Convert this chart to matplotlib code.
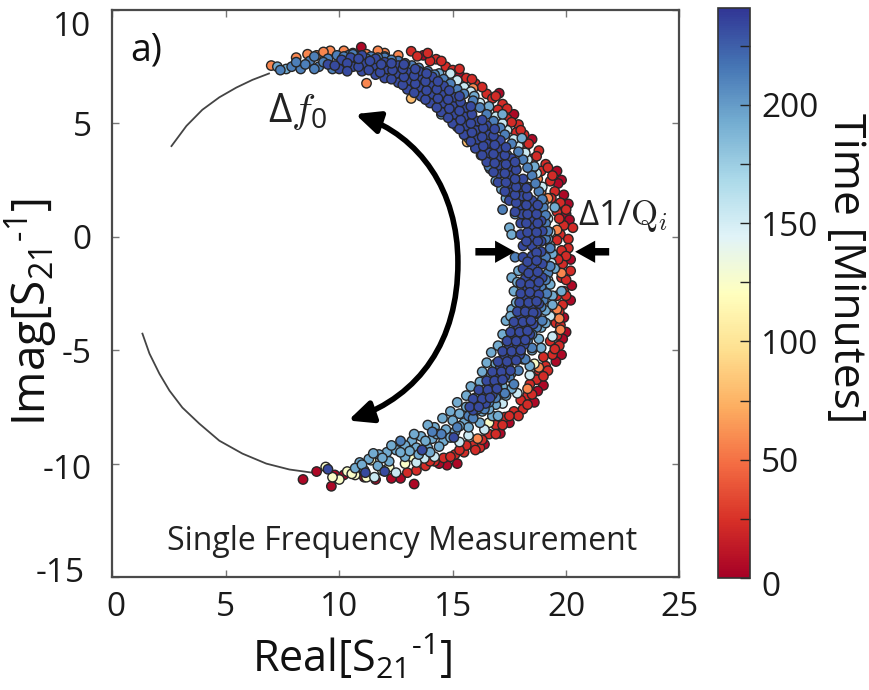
import matplotlib
matplotlib.use("Agg")
import matplotlib.pyplot as plt
from matplotlib.patches import FancyArrowPatch
from matplotlib.path import Path
from matplotlib.transforms import ScaledTranslation

plt.rcParams['font.family'] = ['Open Sans', 'DejaVu Sans']
plt.rcParams['mathtext.default'] = 'regular'
plt.rcParams['axes.unicode_minus'] = False

x_ticks = [0, 5, 10, 15, 20, 25]
y_ticks = [-15, -10, -5, 0, 5, 10]
cbar_ticks = [0, 50, 100, 150, 200]
cbar_minor = [25, 75, 125, 175, 225]
time_max = 241

guide_upper = [(2.6,4.0),(3.26,4.89),(3.96,5.6),(4.71,6.15),(5.46,6.58),(6.17,6.92),(6.9,7.2)]
guide_lower = [(1.32,-4.27),(1.63,-5.15),(2.07,-6.04),(2.51,-6.78),(3.08,-7.53),(3.83,-8.24),(4.71,-8.99),
               (5.73,-9.56),(6.78,-10.0),(7.8,-10.26),(8.81,-10.4)]

deep_red_t = 4
deep_red = [(10.97,8.36),(13.7,8.0),(15.3,7.15),(17.05,6.33),(17.7,5.4),(18.5,4.3),(19.6,2.9),(19.8,2.5),(20.1,1.45),
            (20.0,1.0),(20.2,-1.0),(20.25,-2.15),(20.2,-2.8),(19.9,-3.56),(20.0,-4.2),(19.8,-5.2),(19.0,-6.55),
            (18.6,-7.3),(17.5,-8.2),(17.1,-8.67),(15.2,-10.0),(14.75,-10.07),(13.3,-10.9),(12.7,-10.65),(12.3,-10.65),
            (11.6,-10.7),(11.1,-10.6),(9.65,-11.0),(8.4,-10.7),(9.0,-10.35),(10.2,-10.5),(9.8,-10.5),
            (19.9,1.85),(20.15,0.75),(19.65,2.35),(19.85,-4.5),(19.55,-5.5),(18.75,-6.8),(16.4,-9.15),(14.4,-10.0)]
red_t = 22
red = [(13.17,8.18),(13.44,7.96),(14.27,7.83),(14.0,7.75),(14.7,7.5),(15.0,7.35),(15.6,7.0),(16.0,6.75),(16.5,6.3),
       (16.75,6.1),(17.2,5.85),(17.0,5.6),(17.4,5.2),(17.9,4.95),(18.15,4.5),(17.8,4.6),(18.2,3.95),(18.8,3.8),
       (18.55,3.45),(19.1,3.2),(18.9,2.9),(19.3,2.45),(19.5,2.0),(19.75,1.5),(19.6,1.1),(20.3,0.4),(19.9,0.5),
       (19.75,0.1),(20.1,-0.1),(20.1,-0.5),(19.8,-0.6),(19.85,-1.2),(20.2,-1.5),(19.8,-1.8),(19.9,-2.4),(19.6,-2.6),
       (19.85,-3.0),(19.5,-3.3),(19.55,-3.8),(19.6,-4.35),(19.3,-4.6),(19.7,-4.8),(19.4,-5.2),(19.0,-5.3),(19.1,-5.7),
       (18.8,-5.9),(18.7,-6.3),(18.4,-6.5),(18.3,-7.0),(18.0,-7.2),(18.1,-7.6),(17.7,-7.7),(17.3,-7.95),(16.9,-8.3),
       (16.6,-8.7),(16.2,-9.3),(16.3,-8.95),(15.9,-9.2),(15.5,-9.5),(15.1,-9.6),(14.6,-9.75),(14.2,-9.9),(13.8,-10.1),
       (13.4,-10.3),(13.0,-10.4),
       (13.9,8.1),(14.5,7.75),(15.3,7.4),(15.85,6.95),(16.3,6.6),(16.9,6.2),(17.4,5.65),(17.6,5.05),(18.0,4.7),(18.35,4.1),
       (18.7,3.55),(19.2,3.05),(19.4,2.7),(19.35,1.7),(20.0,1.2),(19.7,0.8),(19.6,-0.15),(20.0,-0.85),(19.65,-1.0),
       (20.0,-1.9),(20.0,-2.6),(19.7,-3.3),(19.75,-3.9),(19.5,-4.95),(19.2,-5.9),(19.0,-6.15),(18.5,-6.95),(18.3,-7.4),
       (17.9,-7.9),(17.5,-7.9),(17.2,-8.3),(16.9,-8.7),(16.0,-9.4),(15.6,-9.2),(15.3,-9.4),(14.9,-9.7),(14.0,-9.9)]
orange_t = 58
orange = [(7.0,7.55),(11.2,6.77),(8.1,7.9),(8.6,8.05),(9.0,8.0),(9.6,8.2),(10.2,8.2),(10.6,8.1),(11.2,8.05),(12.0,8.1),
          (12.6,8.0),(15.9,6.55),(18.9,2.0),(19.2,1.7),(19.6,0.3),(19.8,-1.6),(19.6,-3.2),(19.7,-3.6),(19.75,-4.1),
          (18.8,-5.76),(18.3,-6.7),(16.1,-8.9),(18.75,2.55),(19.1,0.9),(9.3,8.15),(11.7,8.2)]
amber_t = 80
amber = [(13.17,6.1),(15.64,4.18)]
yellow_t = 125
yellow = [(10.0,-10.7),(10.35,-10.35),(9.7,-10.6),(11.2,-10.6),(11.4,-9.85),(12.2,-10.15),(12.9,-10.0),(13.2,-9.7),
          (9.4,-10.15),(18.6,-5.6),(16.6,-8.2),(10.7,-10.5),(10.55,-10.45),(11.9,-10.3)]
pale_t = 155
pale = [(14.9,7.2),(15.5,6.6),(16.2,5.9),(16.9,5.3),(17.4,4.7),(17.9,4.0),(18.3,3.4),(18.7,2.8),(19.0,1.5),(19.2,0.8),
        (19.3,-0.4),(19.2,-1.9),(19.3,-2.7),(19.4,-4.4),(17.2,-7.35),(15.7,-8.76),(15.3,-9.05),(14.2,-9.7),(13.75,-9.77),
        (13.4,-9.95),(12.5,-10.4),(11.55,-10.6),(15.2,6.9),(15.8,6.4),(16.5,5.6),(17.2,5.0),(17.7,4.3),(18.2,3.7),(18.55,3.05),
        (18.95,2.2),(19.3,0.2),(19.35,-1.15),(19.3,-3.5),(18.4,-6.1),(17.85,-6.9),(16.4,-8.5)]
light_t = 193
light = [(17.6,-1.8),(17.9,-1.5),(17.7,-2.4),(18.0,-2.8),(17.6,-3.2),(17.35,-3.7),(17.7,-4.0),(17.2,-4.3),(17.0,-4.8),
         (17.4,-5.0),(16.7,-5.1),(16.5,-5.55),(16.9,-5.6),(16.3,-5.95),(16.7,-6.1),(15.8,-6.6),(16.2,-6.4),(16.6,-6.8),
         (15.6,-7.0),(16.0,-7.1),(15.2,-7.3),(15.6,-7.5),(14.9,-7.7),(15.3,-7.8),(14.55,-8.0),(15.0,-8.1),(15.5,-8.2),
         (14.2,-8.4),(14.7,-8.5),(15.1,-8.6),(13.9,-8.3),(13.6,-8.8),(14.1,-8.9),(14.6,-9.0),(13.2,-9.0),(12.9,-9.2),
         (13.4,-9.3),(13.9,-9.3),(12.5,-9.4),(12.9,-9.7),(12.1,-9.5),(11.75,-9.6),(12.2,-9.9),(11.3,-9.8),(11.7,-10.1),
         (10.9,-9.95),(10.7,-10.2),(11.1,-10.3),(19.8,-2.4),(19.4,-2.6),(19.1,-3.25),(18.8,-4.5),(18.4,-5.7),(17.6,-6.7),
         (17.35,-7.0),(16.75,-7.9),(16.2,-8.2),(16.9,2.46),(17.35,1.7),(17.5,0.4),(17.6,0.1),(18.05,4.35),(17.2,5.4),
         (15.95,6.2),(14.4,7.2),(13.2,7.5),(19.5,1.3),(19.4,-0.75),(7.27,7.5),(7.66,7.4),(12.0,7.95),(16.6,5.75),(18.6,3.1),
         (15.9,-7.9),(16.3,-7.7),(15.7,-8.4),(15.3,-8.35),(14.9,-8.85),(14.3,-8.7),(14.4,-9.25),(13.8,-9.0),(13.5,-9.6),
         (13.1,-9.45),(12.7,-9.5),(12.3,-9.2),(11.9,-9.75),(11.5,-9.55),(11.0,-10.05),(16.9,-7.4),(17.2,-6.6),(17.6,-6.0),
         (18.1,-5.4),(18.5,-5.0),(18.9,-4.0),(19.1,-3.8),(19.4,-3.0),(19.3,-2.1),(19.5,-1.4),(17.55,-3.5),(16.4,-6.9),
         (17.2,-5.4),(17.8,-2.9),(17.85,-2.0),(17.75,1.0),(17.15,2.1),(16.65,3.0),(16.25,3.6),(15.7,4.35),(15.2,4.85),
         (14.5,5.4),(19.2,-0.1),(18.9,-4.9),(17.0,-7.9),(16.6,-7.6),(14.0,-9.5),(13.3,-8.7)]
mid_t = 212
mid = [(7.4,7.35),(7.9,7.5),(8.3,7.4),(8.7,7.75),(9.1,7.5),(9.5,7.85),(9.9,8.0),(10.4,8.0),(8.9,7.95),(10.9,7.95),
       (11.4,7.95),(12.0,7.9),(12.6,7.75),(13.2,7.55),(13.9,7.3),(14.6,6.95),(15.2,6.5),(15.9,6.0),(16.5,5.4),(17.1,4.8),
       (17.6,4.1),(18.1,3.4),(18.5,2.7),(18.8,2.0),(19.0,1.3),(19.1,0.6),(19.1,-0.1),(19.1,-0.9),(19.2,-1.6),(18.9,-2.2),
       (19.0,-2.8),(18.7,-3.4),(18.7,-4.0),(18.3,-4.6),(18.0,-5.2),(17.9,-5.9),(17.5,-6.2),(17.0,-6.8),(16.6,-7.3),
       (16.1,-7.6),(15.7,-7.9),(18.6,1.2),(18.3,2.2),(17.8,3.0),(17.4,3.6),(16.8,4.4),(16.2,5.0),(15.4,5.7),(14.7,6.3),
       (16.6,3.1),(17.2,1.2),(17.75,-0.9),(17.4,-4.6),(15.2,-8.4),(14.5,-8.7),
       (8.1,7.7),(8.5,7.6),(8.9,7.4),(9.3,7.7),(9.7,7.4),(10.2,7.95),(10.6,8.05),(11.2,7.85),(11.7,7.9),(12.3,7.8),
       (12.9,7.65),(13.5,7.45),(14.2,7.15),(14.9,6.75),(15.5,6.3),(16.2,5.7),(16.8,5.1),(17.3,4.5),(17.9,3.75),(18.3,3.05),
       (18.65,2.35),(18.95,1.65),(19.1,0.95),(19.2,0.25),(19.3,-0.5),(19.3,-1.3),(19.1,-1.9),(19.15,-2.5),(18.9,-3.1),
       (18.95,-3.7),(18.5,-4.3),(18.5,-4.9),(18.2,-5.4),(17.7,-6.5),(17.3,-6.9),(16.9,-7.1),(16.4,-7.6),(15.9,-8.0),
       (12.7,-9.0),(14.1,-8.6),(13.65,-9.4)]
dark_t = 233
dark = [(9.5,7.6),(10.0,7.4),(10.1,7.8),(10.6,7.5),(10.5,7.9),(11.0,7.3),(11.1,7.65),(11.0,8.0),(11.6,7.15),(11.5,7.55),
        (11.6,7.85),(12.0,7.0),(12.1,7.4),(12.0,7.7),(12.6,6.8),(12.5,7.2),(12.6,7.55),(13.0,6.5),(13.1,6.9),(13.0,7.25),
        (13.6,6.2),(13.5,6.6),(13.6,7.0),(13.5,7.3),(14.0,5.9),(14.1,6.3),(14.0,6.7),(14.1,7.05),(14.5,5.5),(14.6,5.9),
        (14.5,6.3),(14.6,6.65),(15.0,5.0),(15.1,5.4),(15.0,5.8),(15.1,6.15),(15.5,4.5),(15.6,4.9),(15.5,5.3),(15.6,5.7),
        (16.0,3.9),(16.1,4.3),(16.0,4.7),(16.1,5.1),(16.5,3.3),(16.6,3.7),(16.5,4.1),(16.6,4.5),(16.5,4.9),(17.0,2.4),
        (17.05,2.8),(17.0,3.15),(17.05,3.55),(17.0,3.9),(17.1,4.25),(17.5,1.6),(17.55,2.0),(17.5,2.35),(17.55,2.7),
        (17.5,3.1),(17.6,3.45),(18.0,0.6),(18.05,1.0),(18.0,1.4),(18.05,1.8),(18.0,2.2),(18.1,2.55),(18.5,-0.4),(18.5,0.0),
        (18.55,0.4),(18.5,0.8),(18.55,1.2),(18.5,1.6),(18.0,0.1),(18.1,-0.4),(18.9,-0.2),(18.95,0.25),(18.9,0.7),
        (18.1,-0.9),(18.5,-0.85),(18.9,-0.65),(18.1,-1.4),(18.5,-1.3),(18.95,-1.2),(18.2,-1.85),(18.6,-1.75),(18.95,-1.8),
        (18.3,-2.3),(18.65,-2.2),(18.2,-2.7),(18.55,-2.65),(18.1,-3.1),(18.5,-3.1),(18.8,-2.95),(18.0,-3.55),(18.35,-3.5),
        (18.7,-3.35),(17.9,-4.0),(18.25,-3.95),(18.55,-3.85),(17.75,-4.4),(18.1,-4.4),(18.4,-4.3),(17.5,-4.85),(17.85,-4.85),
        (18.15,-4.75),(17.3,-5.3),(17.65,-5.3),(17.95,-5.2),(17.1,-5.75),(17.45,-5.7),(16.95,-6.15),(17.3,-6.15),(16.6,-6.55),
        (16.95,-6.55),(16.35,-6.95),(16.75,-6.95),(16.1,-7.3),(16.45,-7.35),(15.9,-7.65),
        (9.5,-10.25),(11.15,-10.4),(12.0,-10.35),(13.65,-9.4),(15.05,-8.85),
        (9.8,7.55),(10.35,7.65),(10.35,7.3),(10.85,7.5),(10.85,7.85),(11.3,7.35),(11.35,7.75),(11.8,7.25),(11.85,7.6),
        (12.3,6.95),(12.35,7.35),(12.3,7.65),(12.8,6.7),(12.85,7.05),(12.8,7.4),(12.85,7.6),(13.3,6.35),(13.35,6.75),
        (13.3,7.1),(13.35,7.4),(13.8,6.05),(13.85,6.45),(13.8,6.85),(13.85,7.2),(14.3,5.7),(14.35,6.1),(14.3,6.5),(14.35,6.85),
        (14.8,5.25),(14.85,5.65),(14.8,6.05),(14.85,6.45),(15.3,4.75),(15.35,5.15),(15.3,5.55),(15.35,5.95),(15.3,6.2),
        (15.8,4.2),(15.85,4.6),(15.8,5.0),(15.85,5.4),(15.8,5.75),(16.3,3.6),(16.35,4.0),(16.3,4.4),(16.35,4.8),(16.3,5.15),
        (16.8,2.85),(16.85,3.25),(16.8,3.65),(16.85,4.05),(16.8,4.45),(16.85,4.75),(17.3,2.0),(17.35,2.4),(17.3,2.8),
        (17.35,3.2),(17.3,3.6),(17.35,3.95),(17.75,1.1),(17.8,1.5),(17.75,1.85),(17.8,2.2),(17.75,2.55),(17.8,2.95),(17.75,3.3),
        (18.25,-0.2),(18.3,0.2),(18.25,0.6),(18.3,1.0),(18.25,1.4),(18.3,1.8),(18.25,2.15),(18.7,-0.7),(18.75,-0.2),(18.7,0.2),
        (18.75,0.6),(18.7,1.0),(18.75,1.4),(18.3,-1.1),(18.7,-1.05),(18.35,-1.6),(18.75,-1.55),(18.0,-2.05),(18.4,-2.1),
        (18.8,-2.0),(18.0,-2.5),(18.4,-2.45),(18.8,-2.55),(17.95,-2.9),(18.35,-2.9),(18.7,-2.85),(17.85,-3.3),(18.2,-3.3),
        (18.55,-3.35),(17.7,-3.75),(18.1,-3.75),(18.45,-3.7),(17.55,-4.2),(17.95,-4.2),(18.3,-4.15),(17.4,-4.6),(17.8,-4.6),
        (18.2,-4.55),(17.2,-5.05),(17.6,-5.05),(18.0,-5.0),(17.0,-5.5),(17.4,-5.5),(17.8,-5.45),(16.75,-5.95),(17.15,-5.95),
        (17.55,-5.9),(16.5,-6.35),(16.85,-6.35),(17.2,-6.3),(16.15,-6.75),(16.55,-6.75),(16.95,-6.7),(15.9,-7.15),(16.3,-7.15),
        (16.65,-7.1),(15.75,-7.5),(16.15,-7.5)]

layers = [(deep_red, deep_red_t), (red, red_t), (orange, orange_t), (amber, amber_t), (yellow, yellow_t),
          (pale, pale_t), (light, light_t), (mid, mid_t), (dark, dark_t)]

W, H = 870, 690
fig = plt.figure(figsize=(W/100, H/100), dpi=100, facecolor='white')
ax = fig.add_axes([112.5/W, 1-577/H, (679.5-112.5)/W, (577-10)/H])
ax.set_xlim(0, 25)
ax.set_ylim(-15, 10)

for pts in (guide_upper, guide_lower):
    ax.plot([p[0] for p in pts], [p[1] for p in pts], color='#444444', lw=1.3, zorder=1)

sc = None
for pts, t in layers:
    sc = ax.scatter([p[0] for p in pts], [p[1] for p in pts], c=[t]*len(pts), cmap='RdYlBu', vmin=0, vmax=time_max,
                    s=46, edgecolors='#262626', linewidths=1.0, zorder=2)

ax.set_xticks(x_ticks)
ax.set_yticks(y_ticks)
ax.tick_params(direction='in', length=5, width=1.0, color='#777777', labelsize=24, labelcolor='#1a1a1a',
               top=True, right=True)
ax.tick_params(axis='x', pad=10)
ax.tick_params(axis='y', pad=15)
for s in ax.spines.values():
    s.set_linewidth(1.6)
    s.set_color('#4a4a4a')

def nudge(lab, dx, dy):
    lab.set_transform(lab.get_transform() + ScaledTranslation(dx/100, -dy/100, fig.dpi_scale_trans))
for lab, tick in zip(ax.get_yticklabels(), y_ticks):
    if tick == 10:
        nudge(lab, 0, 13)
    elif tick == -15:
        nudge(lab, -7, -8)
    elif tick == -10:
        nudge(lab, 0, 3)
for lab, tick in zip(ax.get_xticklabels(), x_ticks):
    if tick == 0:
        nudge(lab, 3, 0)

ax.text(130/W, 1-50/H, 'a)', transform=fig.transFigure, fontsize=27, va='center', ha='left', color='#111111')
ax.text(402/W, 1-541/H, 'Single Frequency Measurement', transform=fig.transFigure, fontsize=23, va='center', ha='center', color='#222222')
ax.text(298/W, 1-112/H, r'$\Delta \mathit{f}_0$', transform=fig.transFigure, fontsize=29, va='center', ha='center',
        math_fontfamily='cm', color='#222222')
ax.text(623/W, 1-216/H, r'$\Delta 1/\mathrm{Q}_\mathit{i}$', transform=fig.transFigure, fontsize=25, va='center', ha='center',
        math_fontfamily='cm', color='#222222')

sweep_path = Path([(10.7,5.41),(13.56,4.45),(15.23,2.02),(15.23,-1.14),(15.23,-4.58),(13.56,-7.0),(10.39,-8.1)],
                  [Path.MOVETO, Path.CURVE4, Path.CURVE4, Path.CURVE4, Path.CURVE4, Path.CURVE4, Path.CURVE4])
ax.add_patch(FancyArrowPatch(path=sweep_path, arrowstyle='<|-|>,head_length=0.72,head_width=0.33', mutation_scale=20,
                             lw=4, color='black', zorder=5))
for start, end in [((16.0, -0.66), (17.75, -0.66)), ((21.9, -0.66), (20.4, -0.66))]:
    ax.add_patch(FancyArrowPatch(start, end, arrowstyle='simple,head_length=0.72,head_width=0.8,tail_width=0.27',
                                 mutation_scale=20, lw=0, color='black', zorder=5, shrinkA=0, shrinkB=0))

fig.text(352/W, 1-658/H, 'Real[S$_{21}$$^{\u2010 1}$]', fontsize=31, ha='center', va='center', color='#111111')
fig.text(31/W, 1-312/H, 'Imag[S$_{21}$$^{\u2010 1}$]', fontsize=33, rotation=90, ha='center', va='center', color='#111111')

cax = fig.add_axes([718/W, 1-578/H, 32/W, (578-8)/H])
cb = fig.colorbar(sc, cax=cax)
cb.set_ticks(cbar_ticks + cbar_minor)
cb.set_ticklabels([str(v) for v in cbar_ticks] + ['']*len(cbar_minor))
cax.tick_params(direction='in', length=7, width=1.0, color='#222222', labelsize=24, pad=8, labelcolor='#1a1a1a')
for lab, tick in zip(cax.get_yticklabels(), cbar_ticks + cbar_minor):
    if tick == 0:
        nudge(lab, 0, 5)
cb.outline.set_linewidth(1.2)
cb.outline.set_edgecolor('#333333')
fig.text(845/W, 1-268/H, 'Time [Minutes]', fontsize=32, rotation=270, ha='center', va='center', color='#111111')

fig.savefig('out.png', dpi=100)
